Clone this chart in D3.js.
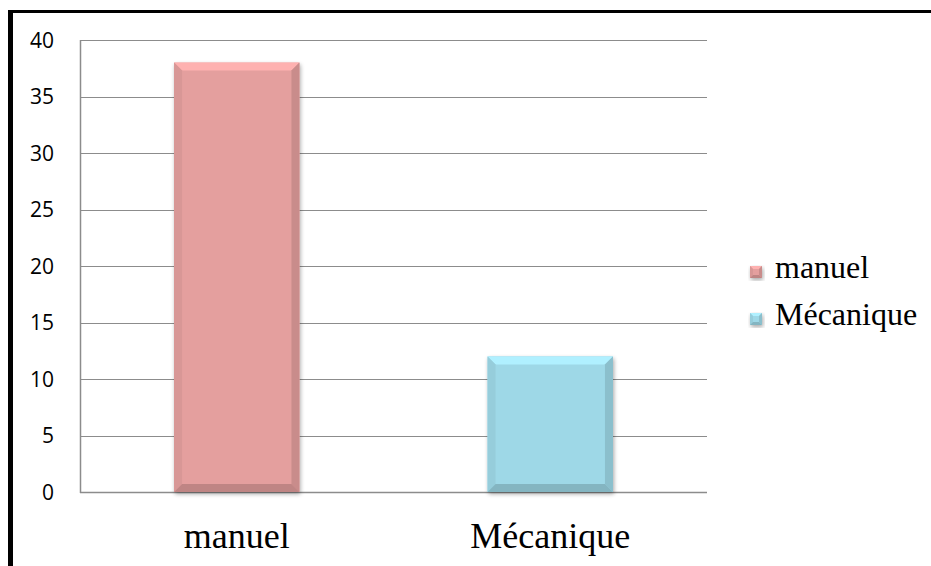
<!DOCTYPE html>
<html>
<head>
<meta charset="utf-8">
<script src="https://cdn.jsdelivr.net/npm/d3@7"></script>
<style>
  html, body { margin: 0; padding: 0; background: #fff; }
  svg { display: block; }
</style>
</head>
<body>
<svg id="chart" width="931" height="566"></svg>
<script>
// Chart data
const categories = ["manuel", "Mécanique"];
const values = [38, 12];
const colors = ["#E49F9E", "#9ED8E7"];
const yTicks = [0, 5, 10, 15, 20, 25, 30, 35, 40];

const svg = d3.select("#chart");
const W = 931, H = 566;
const plot = { left: 80, right: 707, top: 40, bottom: 492 };

// Frame: thick black top and left edges
svg.append("rect").attr("x", 0).attr("y", 0).attr("width", W).attr("height", H).attr("fill", "#fff");
svg.append("line").attr("x1", 8).attr("x2", W).attr("y1", 11.5).attr("y2", 11.5)
  .attr("stroke", "#000").attr("stroke-width", 3);
svg.append("line").attr("x1", 10.5).attr("x2", 10.5).attr("y1", 10).attr("y2", H)
  .attr("stroke", "#000").attr("stroke-width", 5);

const x = d3.scaleBand().domain(categories).range([plot.left, plot.right]).paddingInner(0).paddingOuter(0);
const y = d3.scaleLinear().domain([0, 40]).range([plot.bottom, plot.top]);

const defs = svg.append("defs");
const shadow = defs.append("filter").attr("id", "shadow").attr("x", "-20%").attr("y", "-20%").attr("width", "140%").attr("height", "140%");
shadow.append("feGaussianBlur").attr("in", "SourceAlpha").attr("stdDeviation", 2);
shadow.append("feOffset").attr("dx", 1).attr("dy", 2).attr("result", "b");
shadow.append("feComponentTransfer").append("feFuncA").attr("type", "linear").attr("slope", 0.35);
const merge = shadow.append("feMerge");
merge.append("feMergeNode");
merge.append("feMergeNode").attr("in", "SourceGraphic");

// Gridlines
svg.append("g").selectAll("line").data(yTicks).join("line")
  .attr("x1", plot.left).attr("x2", plot.right)
  .attr("y1", d => Math.round(y(d)) + 0.5).attr("y2", d => Math.round(y(d)) + 0.5)
  .attr("stroke", "#8c8c8c").attr("stroke-width", d => d === 0 ? 1.5 : 1.2);

// Left axis line
svg.append("line").attr("x1", plot.left + 0.5).attr("x2", plot.left + 0.5)
  .attr("y1", plot.top).attr("y2", plot.bottom + 1)
  .attr("stroke", "#8c8c8c").attr("stroke-width", 1.5);

// Y axis tick labels
const yAxis = d3.axisLeft(y).tickValues(yTicks).tickSize(0).tickPadding(0);
const gy = svg.append("g").attr("transform", `translate(54,0)`).call(yAxis);
gy.select(".domain").remove();
gy.selectAll("text").attr("font-family", "'Open Sans', sans-serif").attr("font-size", 21)
  .attr("fill", "#000").attr("dy", "0.35em").attr("x", 0);

// Bevelled bar drawing
function bevelBar(g, x0, y0, w, h, color, bev) {
  const c = d3.color(color);
  const light = c.brighter(0.3).formatHex();
  const dark = c.darker(0.35).formatHex();
  const darker = c.darker(0.5).formatHex();
  g.append("rect").attr("x", x0).attr("y", y0).attr("width", w).attr("height", h)
    .attr("fill", color).attr("filter", "url(#shadow)");
  const b = Math.min(bev, h / 2);
  // top bevel
  g.append("path").attr("d", `M${x0},${y0}L${x0 + w},${y0}L${x0 + w - b},${y0 + b}L${x0 + b},${y0 + b}Z`).attr("fill", light);
  // left bevel
  g.append("path").attr("d", `M${x0},${y0}L${x0 + b},${y0 + b}L${x0 + b},${y0 + h - b}L${x0},${y0 + h}Z`).attr("fill", c.darker(0.15).formatHex());
  // right bevel
  g.append("path").attr("d", `M${x0 + w},${y0}L${x0 + w},${y0 + h}L${x0 + w - b},${y0 + h - b}L${x0 + w - b},${y0 + b}Z`).attr("fill", dark);
  // bottom bevel
  g.append("path").attr("d", `M${x0},${y0 + h}L${x0 + w},${y0 + h}L${x0 + w - b},${y0 + h - b}L${x0 + b},${y0 + h - b}Z`).attr("fill", darker);
}

const barFrac = 0.4;
const bars = svg.append("g");
categories.forEach((cat, i) => {
  const bw = x.bandwidth() * barFrac;
  const bx = x(cat) + (x.bandwidth() - bw) / 2;
  const by = y(values[i]);
  bevelBar(bars.append("g"), bx, by, bw, y(0) - by, colors[i], 8);
});

// Category labels
svg.append("g").selectAll("text").data(categories).join("text")
  .attr("x", d => x(d) + x.bandwidth() / 2).attr("y", 548)
  .attr("text-anchor", "middle")
  .attr("font-family", "'Liberation Serif', 'Times New Roman', serif").attr("font-size", 36)
  .attr("fill", "#000").text(d => d);

// Legend
const legend = svg.append("g");
categories.forEach((cat, i) => {
  const ly = 278 + i * 47;
  bevelBar(legend.append("g"), 750, ly - 12, 12, 12, colors[i], 3);
  legend.append("text").attr("x", 775).attr("y", ly)
    .attr("font-family", "'Liberation Serif', 'Times New Roman', serif").attr("font-size", 32)
    .attr("fill", "#000").text(cat);
});
</script>
</body>
</html>
